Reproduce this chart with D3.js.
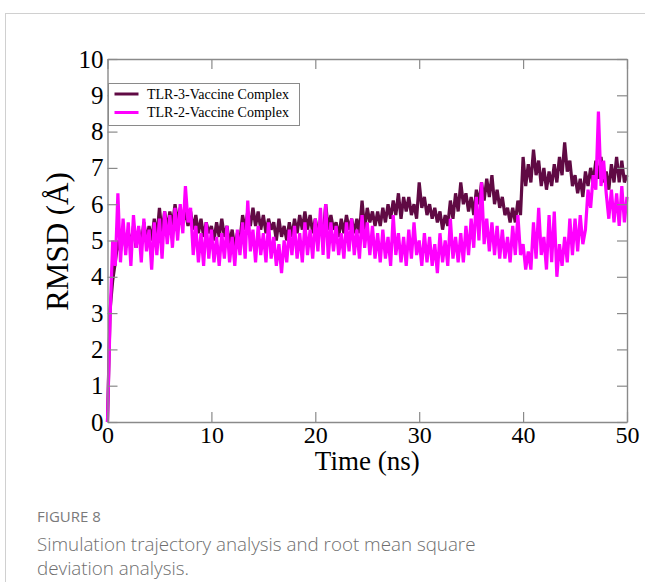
<!DOCTYPE html>
<html>
<head>
<meta charset="utf-8">
<script src="https://cdn.jsdelivr.net/npm/d3@7"></script>
<style>
  html, body { margin:0; padding:0; background:#fff; }
  svg { display:block; }
</style>
</head>
<body>
<svg id="chart" width="645" height="582"></svg>
<script>
const timeStep = 0.25;
const xTicks = [0, 10, 20, 30, 40, 50];
const yTicks = [0, 1, 2, 3, 4, 5, 6, 7, 8, 9, 10];
const seriesNames = ['TLR-3-Vaccine Complex', 'TLR-2-Vaccine Complex'];
const seriesColors = ['#600a44', '#ff00ff'];

const tlr3 = [
  0, 3.1, 3.9, 4.4,   5.0, 4.7, 5.3, 4.8,   5.2, 4.9, 5.4, 4.8,   5.3, 4.9, 5.5, 5.0,
  5.4, 5.0, 5.6, 5.1, 5.9, 5.2, 5.8, 5.3,   5.8, 5.4, 6.0, 5.5,   5.9, 5.5, 5.8, 5.4,
  5.8, 5.3, 5.7, 5.2, 5.6, 5.1, 5.5, 5.2,   5.4, 5.0, 5.5, 5.1,   5.6, 5.1, 5.4, 4.9,
  5.3, 4.8, 5.2, 5.0, 5.7, 5.3, 5.8, 5.4,   5.9, 5.4, 5.8, 5.3,   5.7, 5.2, 5.6, 5.3,
  5.5, 5.0, 5.6, 5.1, 5.4, 5.0, 5.5, 5.1,   5.6, 5.2, 5.7, 5.3,   5.8, 5.3, 5.7, 5.2,
  5.6, 5.2, 5.5, 5.1, 6.0, 5.3, 5.7, 5.3,   5.5, 5.1, 5.6, 5.2,   5.7, 5.3, 5.6, 5.2,
  5.6, 5.2, 6.1, 5.3, 5.9, 5.5, 5.8, 5.4,   5.8, 5.4, 5.9, 5.5,   6.0, 5.6, 6.1, 5.7,
  6.3, 5.6, 6.2, 5.8, 6.2, 5.7, 6.0, 5.6,   6.6, 5.9, 6.2, 5.7,   6.0, 5.6, 5.9, 5.5,
  5.8, 5.3, 5.7, 5.4, 6.1, 5.6, 6.3, 5.8,   6.6, 6.0, 6.3, 5.8,   6.2, 5.7, 6.4, 6.0,
  6.6, 6.1, 6.7, 6.2, 6.8, 6.0, 6.4, 5.9,   6.2, 5.7, 5.9, 5.5,   5.9, 5.5, 6.1, 5.7,
  7.3, 6.5, 7.1, 6.6, 7.5, 6.8, 7.2, 6.5,   7.0, 6.4, 6.9, 6.5,   7.1, 6.6, 7.3, 6.8,
  7.7, 6.9, 7.2, 6.5, 6.8, 6.3, 6.7, 6.2,   6.9, 6.5, 7.0, 6.6,   7.2, 6.7, 7.3, 6.6,
  6.9, 6.4, 7.1, 6.6, 7.3, 6.6, 7.2, 6.6,   6.8
];

const tlr2 = [
  0, 2.9, 5.0, 4.3,   6.3, 4.4, 5.6, 4.6,   5.5, 4.3, 5.7, 4.8,   5.4, 4.4, 5.6, 4.7,
  5.3, 4.2, 5.5, 4.6, 5.6, 4.5, 5.8, 4.9,   5.7, 4.8, 5.9, 5.0,   6.0, 5.2, 6.5, 5.5,
  5.9, 4.6, 5.4, 4.4, 5.2, 4.3, 5.5, 4.5,   5.3, 4.4, 5.1, 4.3,   5.2, 4.5, 5.4, 4.4,
  5.1, 4.3, 5.3, 4.6, 5.5, 4.5, 6.1, 4.7,   5.3, 4.4, 5.4, 4.6,   5.2, 4.4, 5.5, 4.5,
  5.1, 4.3, 4.9, 4.1, 5.0, 4.4, 5.3, 4.6,   5.4, 4.5, 5.2, 4.4,   5.5, 4.6, 5.3, 4.5,
  5.6, 4.7, 5.9, 4.6, 6.0, 4.5, 5.5, 4.7,   5.4, 4.6, 5.2, 4.5,   5.5, 4.7, 5.6, 4.6,
  5.3, 4.5, 5.7, 4.8, 5.5, 4.6, 5.4, 4.5,   5.2, 4.4, 5.3, 4.5,   5.1, 4.3, 5.7, 4.6,
  5.2, 4.4, 5.1, 4.3, 5.3, 4.5, 5.5, 4.6,   5.0, 4.3, 5.2, 4.4,   5.1, 4.3, 4.9, 4.1,
  5.2, 4.4, 5.0, 4.3, 5.6, 4.5, 5.1, 4.4,   5.2, 4.4, 5.4, 4.6,   5.6, 4.8, 6.2, 5.0,
  6.6, 4.9, 5.6, 4.7, 5.5, 4.6, 5.4, 4.5,   5.3, 4.5, 5.1, 4.4,   5.4, 4.6, 5.7, 4.6,
  4.9, 4.2, 4.7, 4.2, 5.5, 4.5, 5.9, 4.6,   5.1, 4.2, 5.7, 4.4,   5.8, 4.0, 4.9, 4.3,
  5.1, 4.4, 5.6, 4.6, 5.6, 4.7, 5.7, 4.9,   5.3, 6.4, 5.9, 6.8,   6.4, 8.55, 6.5, 7.2,
  6.3, 5.6, 6.4, 5.5, 6.3, 5.4, 6.5, 5.5,   6.2
];

// --- layout -------------------------------------------------------------------
const svg = d3.select('#chart');
const margin = {left:107.5, top:59, right:18, bottom:160};
const W = 645, H = 582;
const plotW = W - margin.left - margin.right;
const plotH = H - margin.top - margin.bottom;

// card border
svg.append('rect')
  .attr('x', 5.5).attr('y', 13.5)
  .attr('width', 700).attr('height', 700)
  .attr('fill', 'none').attr('stroke', '#d0d0d0').attr('stroke-width', 1);

const x = d3.scaleLinear().domain([0, 50]).range([0, plotW]);
const y = d3.scaleLinear().domain([0, 10]).range([plotH, 0]);

const g = svg.append('g').attr('transform', `translate(${margin.left},${margin.top})`);

// --- lines --------------------------------------------------------------------
const line = d3.line().x((d,i)=>x(i*timeStep)).y(d=>y(d));
[tlr3, tlr2].forEach((vals, k)=>{
  g.append('path')
    .datum(vals)
    .attr('d', line)
    .attr('fill', 'none')
    .attr('stroke', seriesColors[k])
    .attr('stroke-width', 3.2)
    .attr('stroke-linejoin', 'miter')
    .attr('stroke-miterlimit', 2);
});

// --- axes (inward ticks, mirrored on all four sides) ---------------------------
const axisColor = '#8a8a8a';
const tickFont = '"Liberation Serif", "Times New Roman", serif';

function styleAxis(sel, showText, fs){
  sel.select('.domain').attr('stroke', axisColor).attr('stroke-width', 1.4);
  sel.selectAll('.tick line').attr('stroke', axisColor).attr('stroke-width', 1.2);
  sel.selectAll('.tick text')
    .attr('fill', '#000')
    .style('font-family', tickFont)
    .style('font-size', fs + 'px')
    .style('display', showText ? null : 'none');
}

g.append('g').attr('transform', `translate(0,${plotH})`)
  .call(d3.axisBottom(x).tickValues(xTicks).tickSize(-10).tickSizeOuter(0).tickPadding(4))
  .call(s=>styleAxis(s, true, 24));
g.append('g')
  .call(d3.axisTop(x).tickValues(xTicks).tickSize(-10).tickSizeOuter(0))
  .call(s=>styleAxis(s, false, 24));
g.append('g')
  .call(d3.axisLeft(y).tickValues(yTicks).tickSize(-10).tickSizeOuter(0).tickPadding(4))
  .call(s=>styleAxis(s, true, 25));
g.append('g').attr('transform', `translate(${plotW},0)`)
  .call(d3.axisRight(y).tickValues(yTicks).tickSize(-10).tickSizeOuter(0))
  .call(s=>styleAxis(s, false, 25));

// axis titles
svg.append('text')
  .attr('x', margin.left + plotW/2).attr('y', 470)
  .attr('text-anchor', 'middle')
  .style('font-family', tickFont).style('font-size', '27px')
  .text('Time (ns)');
svg.append('text')
  .attr('transform', `translate(68,${margin.top + plotH/2 + 1}) rotate(-90)`)
  .attr('text-anchor', 'middle')
  .style('font-family', tickFont).style('font-size', '31px')
  .text('RMSD (Å)');

// --- legend ---------------------------------------------------------------------
const lg = svg.append('g').attr('transform', 'translate(108.5,83.5)');
lg.append('rect').attr('width', 191).attr('height', 42)
  .attr('fill', '#fff').attr('stroke', axisColor).attr('stroke-width', 1);
seriesNames.forEach((name, k)=>{
  const yy = 10.5 + k*18.5;
  lg.append('line').attr('x1', 6).attr('x2', 30).attr('y1', yy).attr('y2', yy)
    .attr('stroke', seriesColors[k]).attr('stroke-width', 3);
  lg.append('text').attr('x', 38.5).attr('y', yy + 4.5)
    .style('font-family', tickFont).style('font-size', '14px')
    .text(name);
});

// --- caption --------------------------------------------------------------------
const capFont = '"Open Sans", "Noto Sans", sans-serif';
svg.append('text').attr('x', 37).attr('y', 522)
  .attr('fill', '#7a7a7a')
  .style('font-family', capFont).style('font-size', '15px')
  .text('FIGURE 8');
['Simulation trajectory analysis and root mean square', 'deviation analysis.'].forEach((t, i)=>{
  svg.append('text').attr('x', 37).attr('y', 551 + i*24)
    .attr('fill', '#6e6e6e')
    .style('font-family', capFont).style('font-size', '18.8px').style('font-weight', 300)
    .text(t);
});
</script>
</body>
</html>
